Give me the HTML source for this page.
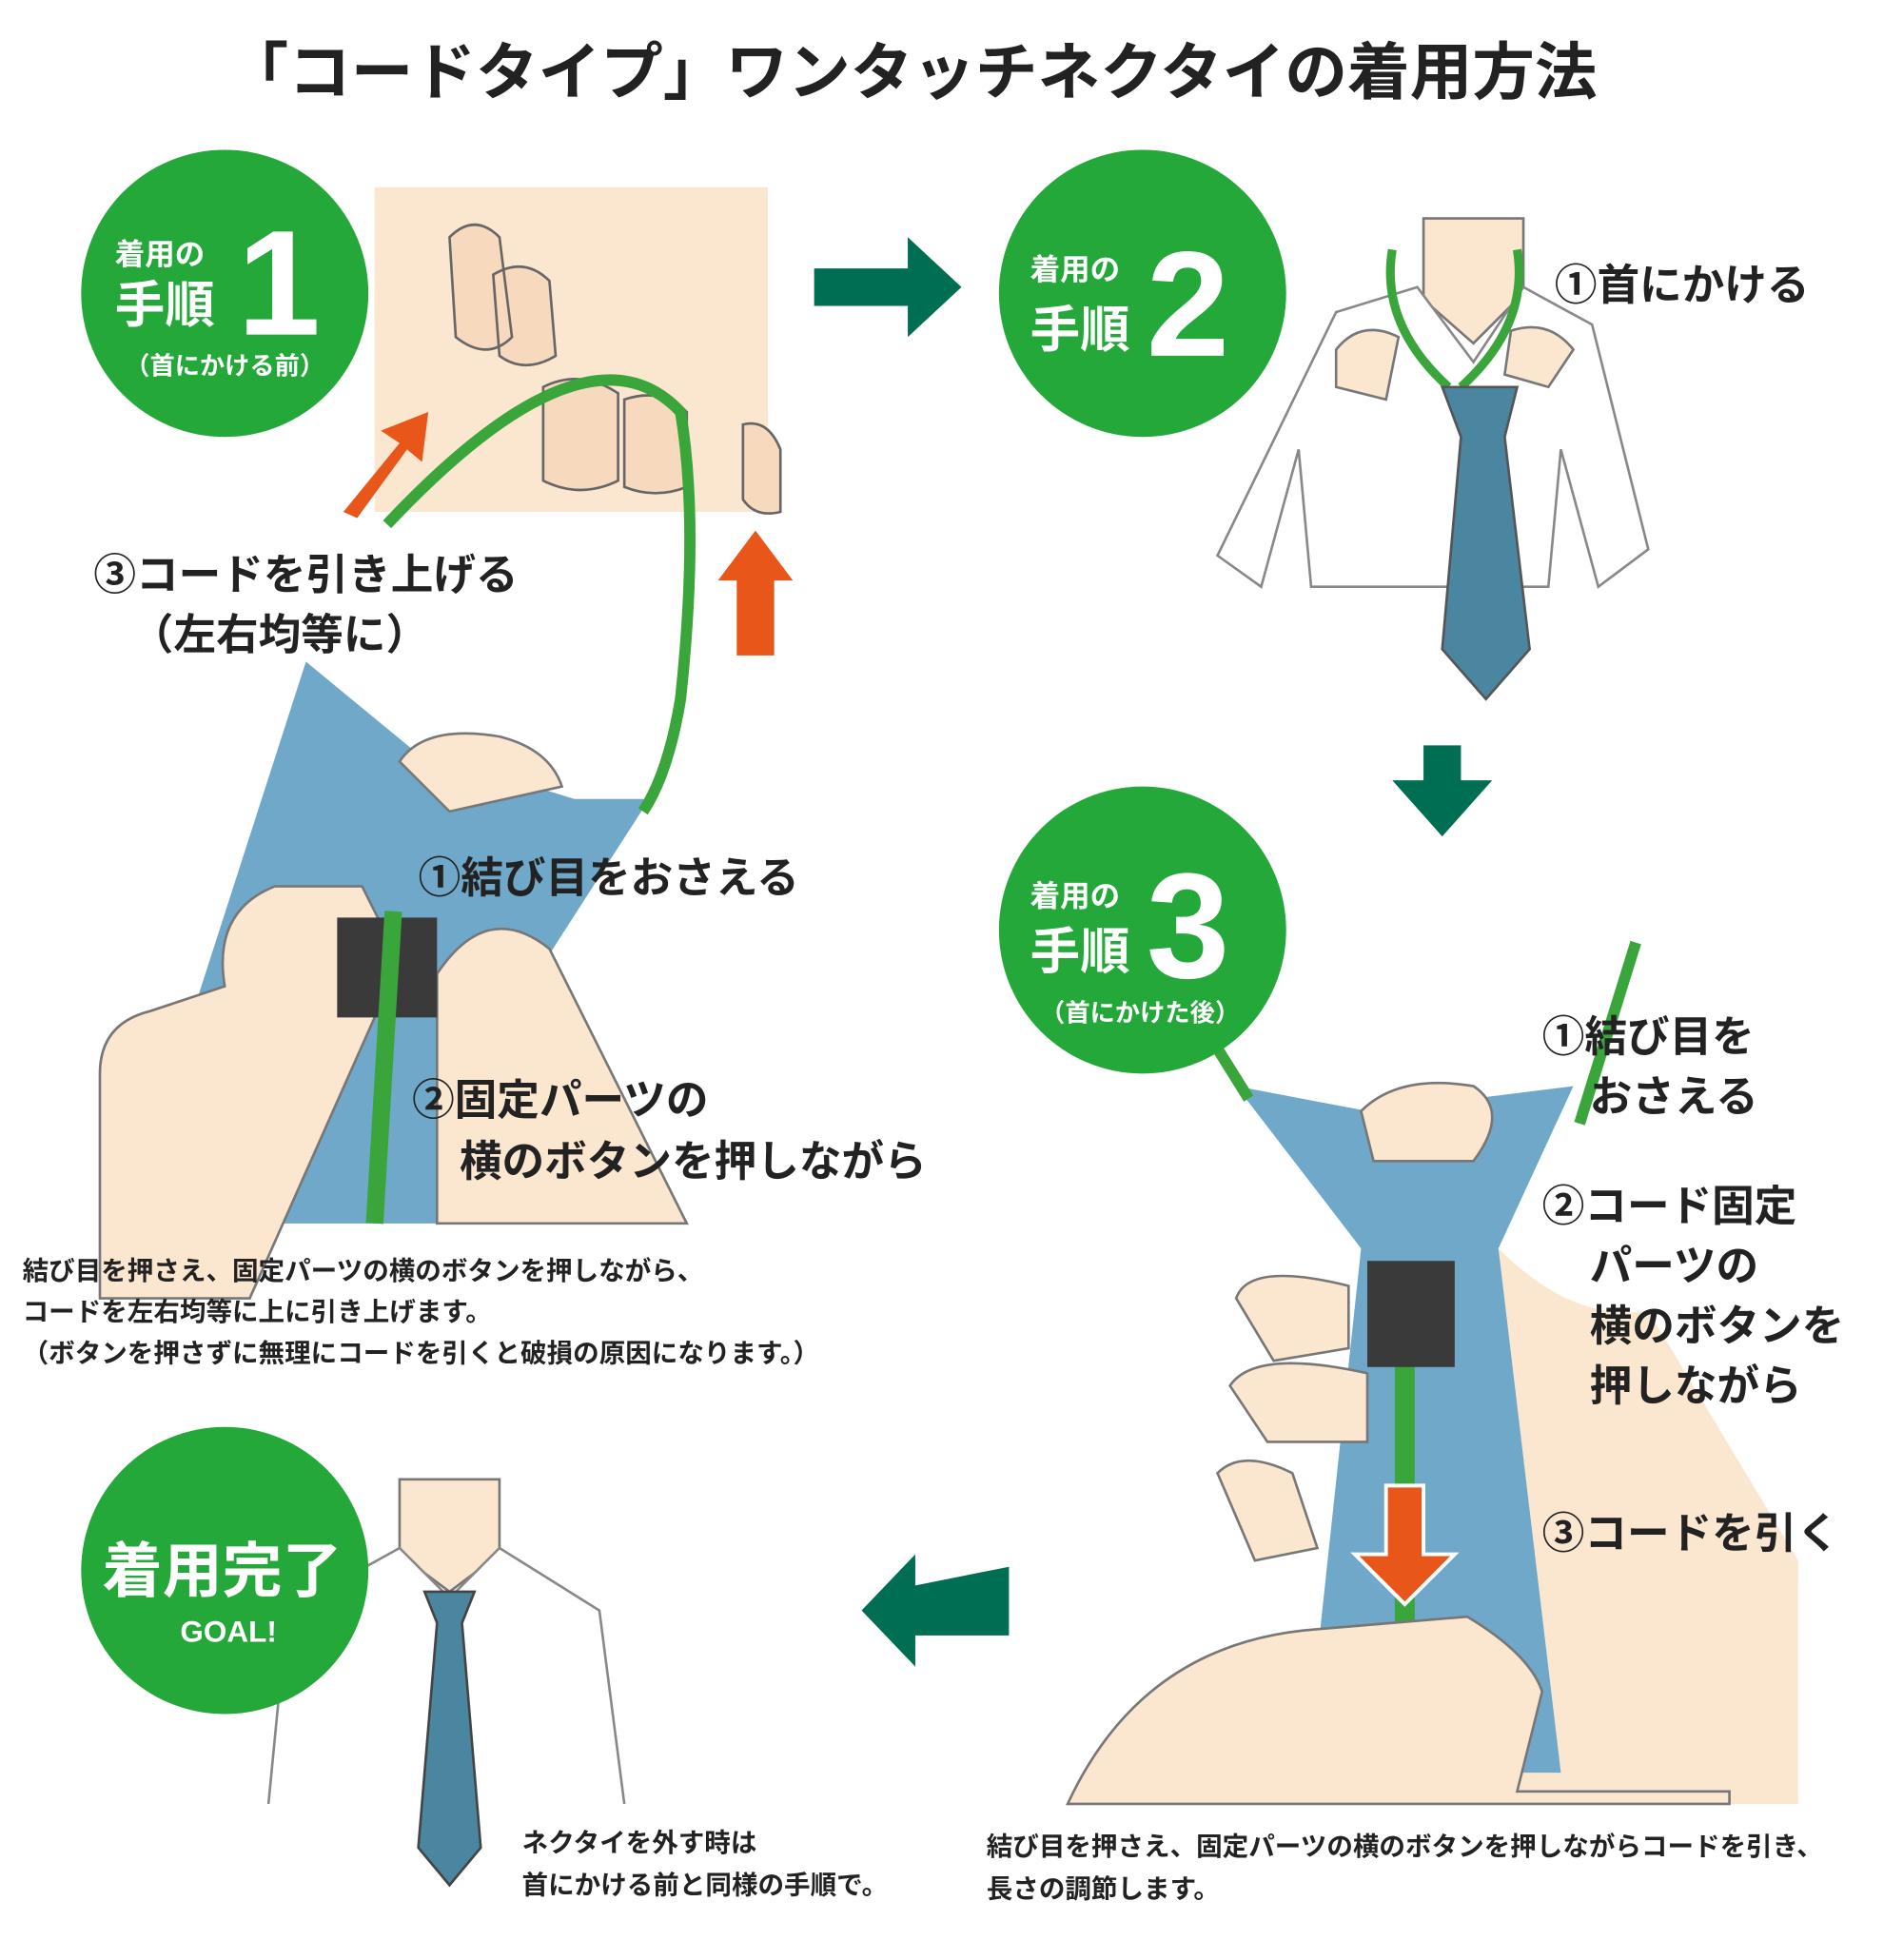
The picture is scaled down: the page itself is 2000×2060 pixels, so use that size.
<!DOCTYPE html>
<html><head><meta charset="utf-8"><style>
html,body{margin:0;padding:0;background:#fff;}
svg{display:block}
text{font-family:"Liberation Sans","Noto Sans CJK JP",sans-serif;font-weight:bold;fill:#222}
</style></head><body>
<svg width="2000" height="2060" viewBox="0 0 1524 1570" preserveAspectRatio="none" xmlns="http://www.w3.org/2000/svg">
<rect width="1524" height="1570" fill="#fff"/>
<text x="730" y="75" font-size="50" text-anchor="middle">「コードタイプ」ワンタッチネクタイの着用方法</text>

<!-- Panel 1 -->
<rect x="300" y="150" width="315" height="260" fill="#fbe6d0"/>
<path d="M360 190 q20-20 40 0 l10 80 q-20 20-45 0z M395 220 q25-15 45 5 l5 60 q-25 15-45 0z M435 310 q30-15 60 5 l0 70 q-30 15-60 0z M500 320 q30-10 50 10 l0 60 q-25 10-50 0z M595 340 q20-5 30 20 l0 50 q-20 5-30-10z" fill="#f7d9bd" stroke="#666" stroke-width="2"/>
<path d="M100 980 L245 530 L330 600 L460 640 L520 640 L430 780 L550 980 Z" fill="#6fa8c8"/>
<path d="M80 860 q0-40 40-50 l60-20 q-10-60 40-80 l70 0 l30 60 l-120 270 l-120 0z" fill="#fbe6d0" stroke="#777" stroke-width="2"/>
<path d="M350 780 q40-60 90-20 l110 220 l-200 0z" fill="#fbe6d0" stroke="#777" stroke-width="2"/>
<path d="M320 610 q20-30 80-20 q40 10 50 40 l-90 20z" fill="#fbe6d0" stroke="#777" stroke-width="2"/>
<rect x="270" y="735" width="80" height="80" fill="#3a3a3a"/>
<path d="M310 420 Q470 250 545 330 Q560 420 545 560 Q535 620 515 650" fill="none" stroke="#3aa53a" stroke-width="9"/>
<path d="M300 980 L315 730" stroke="#3aa53a" stroke-width="14"/>
<path d="M275 410 l45-55 -15-10 38-15 -5 40 -12-10 -40 55z" fill="#e8561a"/>
<path d="M590 525 l0-60 -15 0 30-40 30 40 -15 0 0 60z" fill="#e8561a"/>
<circle cx="180" cy="235" r="115" fill="#24a83a"/>
<text x="92" y="212" font-size="24" style="fill:#fff">着用の</text>
<text x="92" y="258" font-size="40" style="fill:#fff">手順</text>
<text x="190" y="268" font-size="120" style="fill:#fff">1</text>
<text x="100" y="300" font-size="20" style="fill:#fff">（首にかける前）</text>
<text x="75" y="472" font-size="34">③コードを引き上げる</text>
<text x="105" y="520" font-size="34">（左右均等に）</text>
<text x="335" y="715" font-size="34">①結び目をおさえる</text>
<text x="330" y="893" font-size="34">②固定パーツの</text>
<text x="368" y="942" font-size="34">横のボタンを押しながら</text>
<text x="18" y="1025" font-size="21">結び目を押さえ、固定パーツの横のボタンを押しながら、</text>
<text x="18" y="1058" font-size="21">コードを左右均等に上に引き上げます。</text>
<text x="18" y="1091" font-size="21">（ボタンを押さずに無理にコードを引くと破損の原因になります。）</text>

<!-- arrow right -->
<path d="M652 215 h75 v-25 l43 40 -43 40 v-25 h-75z" fill="#006e52"/>

<!-- Panel 2 -->
<circle cx="915" cy="235" r="115" fill="#24a83a"/>
<text x="825" y="224" font-size="24" style="fill:#fff">着用の</text>
<text x="825" y="278" font-size="40" style="fill:#fff">手順</text>
<text x="918" y="285" font-size="120" style="fill:#fff">2</text>
<path d="M1140 175 h80 v60 l-40 40 -40-35z" fill="#fbe6d0" stroke="#777" stroke-width="2"/>
<path d="M975 445 L1070 250 L1135 230 L1180 290 L1220 230 L1275 260 L1320 440 L1280 470 L1250 360 L1240 470 L1050 470 L1040 360 L1010 470 Z" fill="#fff" stroke="#888" stroke-width="2"/>
<path d="M1115 200 q-10 60 45 110 M1215 200 q10 60-45 110" fill="none" stroke="#3aa53a" stroke-width="7"/>
<path d="M1155 310 h60 l-10 40 20 170 -35 40 -35-40 15-170z" fill="#4a86a0" stroke="#555" stroke-width="2"/>
<path d="M1070 280 q20-25 50-10 l-10 50 -40-10z M1210 265 q30-10 50 15 l-20 30 -35-10z" fill="#fbe6d0" stroke="#777" stroke-width="2"/>
<text x="1245" y="240" font-size="34">①首にかける</text>

<!-- arrow down -->
<path d="M1140 597 h30 v28 h25 l-40 45 -40-45 h25z" fill="#006e52"/>

<!-- Panel 3 -->
<path d="M1200 1000 q60 60 120 50 l120 200 0 195 -260 0z" fill="#fbe6d0"/>
<path d="M990 870 L1095 890 L1180 880 L1260 870 L1200 1000 L1250 1420 L1045 1420 L1090 1000 Z" fill="#6fa8c8"/>
<path d="M1310 755 L1265 900" stroke="#3aa53a" stroke-width="9"/>
<path d="M975 840 L1000 880" stroke="#3aa53a" stroke-width="9"/>
<path d="M1125 1090 L1125 1360" stroke="#3aa53a" stroke-width="16"/>
<rect x="1095" y="1010" width="70" height="85" fill="#3a3a3a"/>
<path d="M990 1040 q10-30 90-10 l0 50 -60 10 z M985 1110 q20-30 110-10 l0 55 -80 0z M975 1180 q20-20 60 0 l20 60 -50 10z" fill="#fbe6d0" stroke="#777" stroke-width="2"/>
<path d="M1090 890 q30-30 90-20 q30 20 0 60 l-80 0z" fill="#fbe6d0" stroke="#777" stroke-width="2"/>
<path d="M855 1445 q60-130 200-140 l120-10 q50 30 60 60 l-20 80 170 0 0 10z" fill="#fbe6d0" stroke="#777" stroke-width="2"/>
<path d="M1110 1190 h30 v55 h25 l-40 40 -40-40 h25z" fill="#e8561a" stroke="#fff" stroke-width="3"/>
<circle cx="915" cy="745" r="115" fill="#24a83a"/>
<text x="825" y="726" font-size="24" style="fill:#fff">着用の</text>
<text x="825" y="776" font-size="40" style="fill:#fff">手順</text>
<text x="918" y="783" font-size="120" style="fill:#fff">3</text>
<text x="833" y="818" font-size="20" style="fill:#fff">（首にかけた後）</text>
<text x="1235" y="842" font-size="34">①結び目を</text>
<text x="1273" y="890" font-size="34">おさえる</text>
<text x="1235" y="978" font-size="34">②コード固定</text>
<text x="1273" y="1026" font-size="34">パーツの</text>
<text x="1273" y="1074" font-size="34">横のボタンを</text>
<text x="1273" y="1122" font-size="34">押しながら</text>
<text x="1235" y="1240" font-size="34">③コードを引く</text>
<text x="790" y="1486" font-size="21">結び目を押さえ、固定パーツの横のボタンを押しながらコードを引き、</text>
<text x="790" y="1520" font-size="21">長さの調節します。</text>

<!-- arrow left -->
<path d="M808 1255 v55 h-75 v25 l-43-45 43-45 v25z" fill="#006e52"/>

<!-- Goal -->
<path d="M320 1185 h80 v60 l-40 30 -40-30z" fill="#fbe6d0" stroke="#777" stroke-width="2"/>
<path d="M215 1445 L230 1290 L320 1240 L360 1280 L400 1240 L480 1290 L500 1445" fill="#fff" stroke="#888" stroke-width="2"/>
<path d="M340 1275 h40 l-10 25 15 180 -25 30 -25-30 15-180z" fill="#4a86a0" stroke="#444" stroke-width="2"/>
<circle cx="180" cy="1258" r="115" fill="#24a83a"/>
<text x="178" y="1275" font-size="48" text-anchor="middle" style="fill:#fff">着用完了</text>
<text x="183" y="1315" font-size="24" text-anchor="middle" style="fill:#fff">GOAL!</text>
<text x="418" y="1483" font-size="21">ネクタイを外す時は</text>
<text x="418" y="1517" font-size="21">首にかける前と同様の手順で。</text>
</svg>
</body></html>
